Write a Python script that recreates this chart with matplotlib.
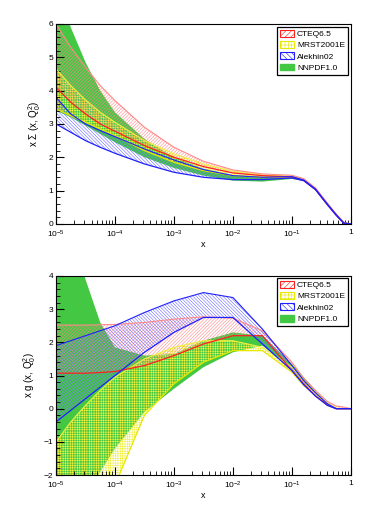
import numpy as np
import matplotlib
matplotlib.use("Agg")
import matplotlib.pyplot as plt
from matplotlib.patches import Patch

plt.rcParams["font.family"] = ["Liberation Sans", "DejaVu Sans"]
plt.rcParams["mathtext.default"] = "regular"
plt.rcParams["hatch.linewidth"] = 0.4

logx = [-5, -4.75, -4.5, -4.25, -4, -3.5, -3, -2.5, -2, -1.5, -1, -0.8, -0.6, -0.4, -0.25, -0.12, 0]

# singlet  x Sigma(x, Q0^2)
cteq_s_hi = [6.0, 5.3, 4.7, 4.15, 3.7, 2.9, 2.3, 1.88, 1.62, 1.5, 1.46, 1.36, 1.08, 0.63, 0.3, 0.05, 0.0]
cteq_s_lo = [4.1, 3.65, 3.3, 3.0, 2.78, 2.35, 2.0, 1.72, 1.53, 1.45, 1.41, 1.3, 1.03, 0.58, 0.27, 0.03, 0.0]
mrst_s_hi = [4.65, 4.15, 3.72, 3.35, 3.05, 2.5, 2.1, 1.8, 1.58, 1.47, 1.43, 1.33, 1.06, 0.61, 0.29, 0.04, 0.0]
mrst_s_lo = [3.45, 3.25, 3.05, 2.85, 2.65, 2.2, 1.85, 1.6, 1.45, 1.4, 1.4, 1.31, 1.04, 0.59, 0.27, 0.03, 0.0]
alek_s_hi = [3.8, 3.3, 3.0, 2.8, 2.62, 2.25, 1.92, 1.63, 1.45, 1.4, 1.42, 1.32, 1.05, 0.6, 0.28, 0.03, 0.0]
alek_s_lo = [3.0, 2.75, 2.5, 2.3, 2.12, 1.8, 1.55, 1.4, 1.33, 1.33, 1.38, 1.3, 1.03, 0.58, 0.26, 0.02, 0.0]
nnpdf_s_hi = [7.2, 5.9, 4.85, 4.0, 3.35, 2.55, 2.0, 1.66, 1.47, 1.42, 1.44, 1.34, 1.07, 0.62, 0.29, 0.05, 0.0]
nnpdf_s_lo = [3.4, 3.2, 2.95, 2.7, 2.45, 2.0, 1.68, 1.45, 1.3, 1.27, 1.35, 1.29, 1.02, 0.57, 0.26, 0.02, 0.0]

# gluon  x g(x, Q0^2)
cteq_g_hi = [2.52, 2.52, 2.52, 2.53, 2.54, 2.6, 2.7, 2.77, 2.73, 2.35, 1.4, 0.92, 0.55, 0.22, 0.08, 0.05, 0.0]
cteq_g_lo = [1.07, 1.07, 1.07, 1.09, 1.12, 1.3, 1.6, 1.95, 2.2, 2.2, 1.15, 0.75, 0.38, 0.12, 0.0, 0.0, 0.0]
mrst_g_hi = [-1.0, -0.4, 0.1, 0.55, 0.95, 1.5, 1.85, 2.05, 2.05, 1.85, 1.25, 0.85, 0.5, 0.17, 0.02, 0.0, 0.0]
mrst_g_lo = [-6.0, -4.5, -3.5, -2.8, -2.3, -0.2, 0.75, 1.4, 1.75, 1.75, 1.1, 0.7, 0.4, 0.1, 0.0, 0.0, 0.0]
alek_g_hi = [1.9, 2.05, 2.2, 2.35, 2.5, 2.9, 3.25, 3.5, 3.35, 2.4, 1.3, 0.85, 0.48, 0.15, 0.0, 0.0, 0.0]
alek_g_lo = [-0.4, -0.05, 0.3, 0.65, 1.0, 1.7, 2.3, 2.75, 2.75, 1.95, 1.15, 0.72, 0.38, 0.1, 0.0, 0.0, 0.0]
nnpdf_g_hi = [8.0, 5.6, 3.9, 2.6, 1.85, 1.6, 1.65, 2.05, 2.3, 2.2, 1.35, 0.95, 0.55, 0.18, 0.02, 0.0, 0.0]
nnpdf_g_lo = [-4.5, -3.5, -2.7, -1.9, -1.2, -0.1, 0.6, 1.25, 1.7, 1.9, 1.2, 0.78, 0.45, 0.15, 0.0, 0.0, 0.0]

nombres = ["CTEQ6.5", "MRST2001E", "Alekhin02", "NNPDF1.0"]
xticks_lbl = ["$10^{-5}$", "$10^{-4}$", "$10^{-3}$", "$10^{-2}$", "$10^{-1}$", "1"]

ROJO = "#ff2020"
ROJO_CLARO = "#ff8a8a"
AMARILLO = "#e8e800"
AMARILLO_CLARO = "#f0f040"
AZUL = "#2020ff"
AZUL_CLARO = "#6a6aff"
VERDE = "#44c844"

H_ROJO = "/" * 10
H_AMAR = "+" * 7
H_AZUL = "\\" * 10

x = 10.0 ** np.array(logx)

fig = plt.figure(figsize=(3.82, 5.13), dpi=100)
ax1 = fig.add_axes([0.1466, 0.5634, 0.772, 0.39])
ax2 = fig.add_axes([0.1466, 0.074, 0.772, 0.388])


def banda(ax, lo, hi, color, claro, hatch, borde_hi=None):
    ax.fill_between(x, lo, hi, facecolor="none", edgecolor=claro, hatch=hatch, linewidth=0)
    ax.plot(x, hi, color=borde_hi or claro, lw=0.8)
    ax.plot(x, lo, color=color, lw=0.9)


def dibujar(ax, datos, ylim, ylabel, leg_y):
    (n_lo, n_hi), (m_lo, m_hi), (c_lo, c_hi), (a_lo, a_hi) = datos
    ax.fill_between(x, n_lo, n_hi, facecolor=VERDE, edgecolor="none")
    banda(ax, m_lo, m_hi, AMARILLO, AMARILLO_CLARO, H_AMAR)
    banda(ax, c_lo, c_hi, ROJO, ROJO_CLARO, H_ROJO)
    banda(ax, a_lo, a_hi, AZUL, AZUL_CLARO, H_AZUL, borde_hi=AZUL)

    ax.set_xscale("log")
    ax.set_xlim(1e-5, 1)
    ax.set_ylim(*ylim)
    ax.set_xticks([1e-5, 1e-4, 1e-3, 1e-2, 1e-1, 1])
    ax.set_xticklabels(xticks_lbl)
    ax.xaxis.set_minor_locator(matplotlib.ticker.LogLocator(base=10, subs=np.arange(2, 10), numticks=20))
    ax.xaxis.set_minor_formatter(matplotlib.ticker.NullFormatter())
    ax.yaxis.set_major_locator(matplotlib.ticker.MultipleLocator(1))
    ax.yaxis.set_minor_locator(matplotlib.ticker.MultipleLocator(0.2))
    ax.tick_params(which="both", direction="in", top=False, right=False, labelsize=6)
    ax.tick_params(axis="x", pad=3.5)
    ax.tick_params(axis="y", pad=2)
    ax.tick_params(which="major", length=6, width=0.8)
    ax.tick_params(which="minor", length=3, width=0.6)
    ax.set_xlabel("x", fontsize=6.5, labelpad=0)
    ax.set_ylabel(ylabel, fontsize=7, labelpad=4)

    handles = [
        Patch(facecolor="white", edgecolor=ROJO, hatch="/" * 6, lw=0.8),
        Patch(facecolor="white", edgecolor=AMARILLO, hatch="+" * 5, lw=0.8),
        Patch(facecolor="white", edgecolor=AZUL, hatch="\\" * 6, lw=0.8),
        Patch(facecolor=VERDE, edgecolor=VERDE),
    ]
    leg = ax.legend(handles, nombres, loc="upper right", bbox_to_anchor=(0.99, leg_y),
                    fontsize=6, fancybox=False, framealpha=1, edgecolor="black",
                    handlelength=1.6, handleheight=0.9, handletextpad=0.4,
                    labelspacing=0.35, borderpad=0.35, borderaxespad=0)
    leg.get_frame().set_linewidth(0.9)


dibujar(ax1, [(nnpdf_s_lo, nnpdf_s_hi), (mrst_s_lo, mrst_s_hi), (cteq_s_lo, cteq_s_hi), (alek_s_lo, alek_s_hi)],
        (0, 6), r"x $\Sigma$ (x, Q$_0^2$)", 0.985)
dibujar(ax2, [(nnpdf_g_lo, nnpdf_g_hi), (mrst_g_lo, mrst_g_hi), (cteq_g_lo, cteq_g_hi), (alek_g_lo, alek_g_hi)],
        (-2, 4), r"x g (x, Q$_0^2$)", 0.99)

plt.savefig("out.png", dpi=100)
